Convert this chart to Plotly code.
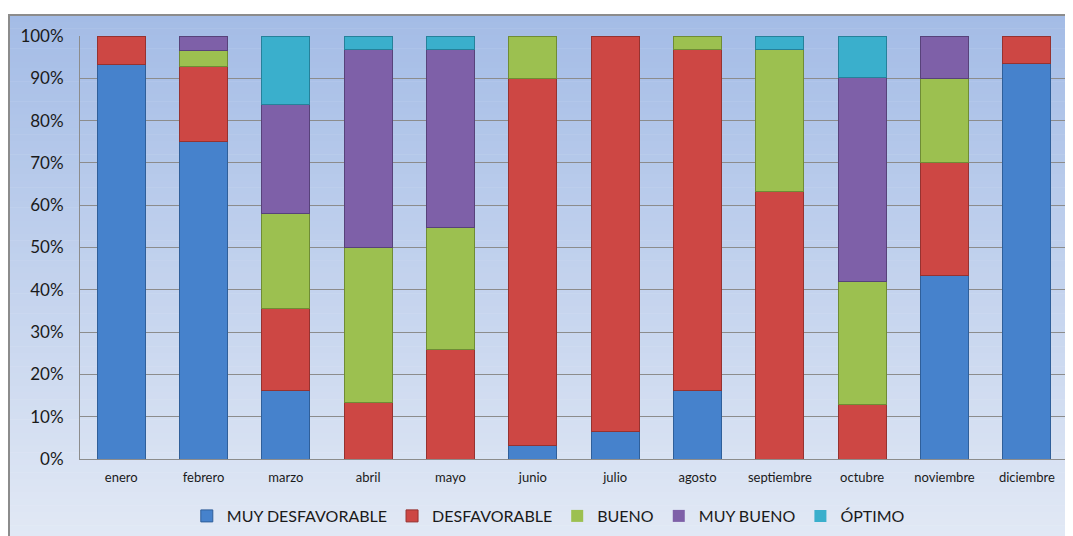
import plotly.graph_objects as go

months = ["enero", "febrero", "marzo", "abril", "mayo", "junio", "julio",
          "agosto", "septiembre", "octubre", "noviembre", "diciembre"]

muy_desfavorable = [93.3, 75.0, 16.1, 0.0, 0.0, 3.3, 6.5, 16.1, 0.0, 0.0, 43.3, 93.5]
desfavorable     = [6.7, 17.9, 19.4, 13.3, 25.8, 86.7, 93.5, 80.6, 63.3, 12.9, 26.7, 6.5]
bueno            = [0.0, 3.6, 22.6, 36.7, 29.0, 10.0, 0.0, 3.3, 33.4, 29.0, 20.0, 0.0]
muy_bueno        = [0.0, 3.5, 25.8, 46.7, 42.0, 0.0, 0.0, 0.0, 0.0, 48.4, 10.0, 0.0]
optimo           = [0.0, 0.0, 16.1, 3.3, 3.2, 0.0, 0.0, 0.0, 3.3, 9.7, 0.0, 0.0]

y_ticks = [0, 10, 20, 30, 40, 50, 60, 70, 80, 90, 100]
y_tick_labels = ["0%", "10%", "20%", "30%", "40%", "50%", "60%", "70%", "80%", "90%", "100%"]

series = [
    ("MUY DESFAVORABLE", muy_desfavorable, "#4682cc", "#2f5f9a"),
    ("DESFAVORABLE", desfavorable, "#cd4744", "#963230"),
    ("BUENO", bueno, "#9cc050", "#6f8c35"),
    ("MUY BUENO", muy_bueno, "#7e60a8", "#57427a"),
    ("ÓPTIMO", optimo, "#3aafcc", "#26819a"),
]

fig = go.Figure()
for name, vals, col, line in series:
    widths = [1 if v > 0 else 0 for v in vals]
    fig.add_trace(go.Bar(
        x=months, y=vals, name=name,
        marker=dict(color=col, line=dict(color=line, width=widths)),
    ))

# page body has an 8px margin; figure is sized to fit the window
OFF = 8
W, H = 1073 - OFF, 536 - OFF
l, r, t, b = 80 - OFF, W - (1068 - OFF), 36 - OFF, H - (459 - OFF)
pw, ph = W - l - r, H - t - b


def px_x(px):
    return (px - OFF - l) / pw


def px_y(py):
    return (H - b - (py - OFF)) / ph


top_c = (164, 188, 230)
bot_c = (226, 233, 245)
n = 80
y_top, y_bot = 15, 545
shapes = []
for i in range(n):
    f = i / (n - 1)
    c = tuple(int(round(top_c[k] + (bot_c[k] - top_c[k]) * f)) for k in range(3))
    py0 = y_top + (y_bot - y_top) * i / n
    py1 = y_top + (y_bot - y_top) * (i + 1) / n + 0.6
    shapes.append(dict(type="rect", xref="paper", yref="paper", layer="below",
                       x0=px_x(9), x1=px_x(1090),
                       y0=px_y(py1), y1=px_y(py0),
                       fillcolor="rgb(%d,%d,%d)" % c, line=dict(width=0)))
shapes.append(dict(type="rect", xref="paper", yref="paper", layer="below",
                   x0=px_x(9), x1=px_x(1090),
                   y0=px_y(y_bot), y1=px_y(15),
                   fillcolor="rgba(0,0,0,0)", line=dict(color="#8c8c8c", width=2)))

font = "Lato, Open Sans, sans-serif"

fig.update_layout(
    width=W, height=H,
    barmode="stack",
    bargap=0.42,
    paper_bgcolor="white",
    plot_bgcolor="rgba(0,0,0,0)",
    margin=dict(l=l, r=r, t=t, b=b, autoexpand=False),
    shapes=shapes,
    font=dict(family=font, color="#1a1a1a"),
    showlegend=True,
    legend=dict(orientation="h", x=0.474, xanchor="center", y=px_y(516), yanchor="middle",
                font=dict(size=16, family=font), bgcolor="rgba(0,0,0,0)",
                itemwidth=30, traceorder="normal"),
    xaxis=dict(showline=True, linecolor="#8c8c8c", linewidth=1, ticks="",
               tickfont=dict(size=13), showgrid=False, automargin=False,
               ticklabelstandoff=6),
    yaxis=dict(range=[0, 100], tickmode="array", tickvals=y_ticks, ticktext=y_tick_labels,
               showgrid=True, gridcolor="#8c8c8c", gridwidth=1,
               showline=True, linecolor="#8c8c8c", linewidth=1, ticks="",
               tickfont=dict(size=17), zeroline=False, automargin=False,
               ticklabelstandoff=12),
)

fig.write_html("out.html")
